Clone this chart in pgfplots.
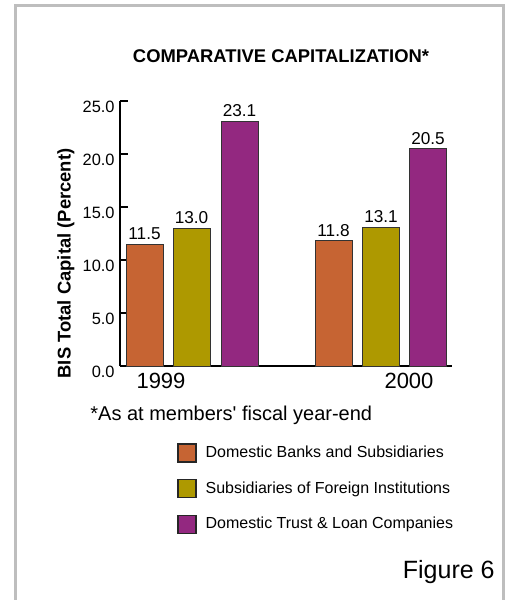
\documentclass[border=0pt]{standalone}
\usepackage{pgfplots}
\pgfplotsset{compat=1.18}
\usepackage{fontspec}
\setmainfont{Liberation Sans}
\newfontfamily\plainfont{Liberation Sans}[Ligatures=TeXOff]
\definecolor{cOr}{RGB}{198,100,51}
\definecolor{cOl}{RGB}{174,153,0}
\definecolor{cPu}{RGB}{147,40,128}
\definecolor{cFrame}{RGB}{190,190,190}
\begin{document}
\begin{tikzpicture}
\path[use as bounding box] (0,0) rectangle (253.5pt,-300pt);
\draw[line width=1.5pt, cFrame] (7.5pt,-300pt) -- (7.5pt,-2.5pt) -- (251.75pt,-2.5pt) -- (251.75pt,-300pt);
\pgfplotsset{sq legend/.style={legend image code/.code={\draw[##1,draw=black!85,line width=0.6pt] (0pt,-4.5pt) rectangle (9pt,4.5pt);}}}
\begin{axis}[
  at={(60pt,-183pt)}, anchor=south west,
  scale only axis, width=166pt, height=132.5pt,
  xmin=120, xmax=452, ymin=0, ymax=25,
  axis x line*=bottom, axis y line*=left,
  axis line style={-, line width=1pt, black},
  clip=false,
  /pgf/number format/assume math mode=true,
  ytick={0,5,10,15,20,25},
  yticklabel style={/pgf/number format/fixed, /pgf/number format/fixed zerofill, /pgf/number format/precision=1},
  y tick label style={font=\fontsize{8.2}{9.8}\selectfont, yshift=-3pt, inner sep=2.5pt},
  tick align=inside, major tick length=4pt,
  y tick style={line width=1pt, black},
  xtick={161,409}, xticklabels={1999,2000},
  x tick style={draw=none},
  x tick label style={font=\fontsize{11}{13}\selectfont},
  ylabel={BIS Total Capital (Percent)},
  ylabel style={at={(axis description cs:-0.163,0.387)}, anchor=center, font=\bfseries\fontsize{9.2}{11}\selectfont},
  title={COMPARATIVE CAPITALIZATION*},
  title style={at={(axis description cs:0.485,1.125)}, anchor=center, font=\bfseries\fontsize{9.2}{11}\selectfont},
  nodes near coords={\pgfmathprintnumber[fixed,fixed zerofill,precision=1]{\pgfplotspointmeta}},
  every node near coord/.append style={font=\fontsize{8.6}{10}\selectfont, inner sep=1.8pt, black},
  legend style={at={(axis description cs:0.1717,-0.2906)}, anchor=north west, draw=none, fill=none,
    inner sep=0pt, nodes={inner sep=0pt}, column sep=4.5pt, row sep=8.25pt,
    font=\fontsize{8}{9.6}\selectfont, cells={anchor=west}},
]
\addplot[ybar, bar width=37, bar shift=0pt, fill=cOr, draw=black!80, line width=0.5pt, sq legend]
  coordinates {(144.5,11.5) (333.5,11.8)};
\addlegendentry{Domestic Banks and Subsidiaries}
\addplot[ybar, bar width=37, bar shift=0pt, fill=cOl, draw=black!80, line width=0.5pt, sq legend]
  coordinates {(191.5,13.0) (381,13.1)};
\addlegendentry{Subsidiaries of Foreign Institutions}
\addplot[ybar, bar width=37, bar shift=0pt, fill=cPu, draw=black!80, line width=0.5pt, sq legend]
  coordinates {(239.5,23.1) (428,20.5)};
\addlegendentry{Domestic Trust \& Loan Companies}
\end{axis}
\node[anchor=west, inner sep=0pt, font=\plainfont\fontsize{10}{12}\selectfont] at (45pt,-207.5pt) {*As at members' fiscal year-end};
\node[anchor=east, inner sep=0pt, font=\fontsize{12.5}{15}\selectfont] at (247.5pt,-286pt) {Figure 6};
\end{tikzpicture}
\end{document}
